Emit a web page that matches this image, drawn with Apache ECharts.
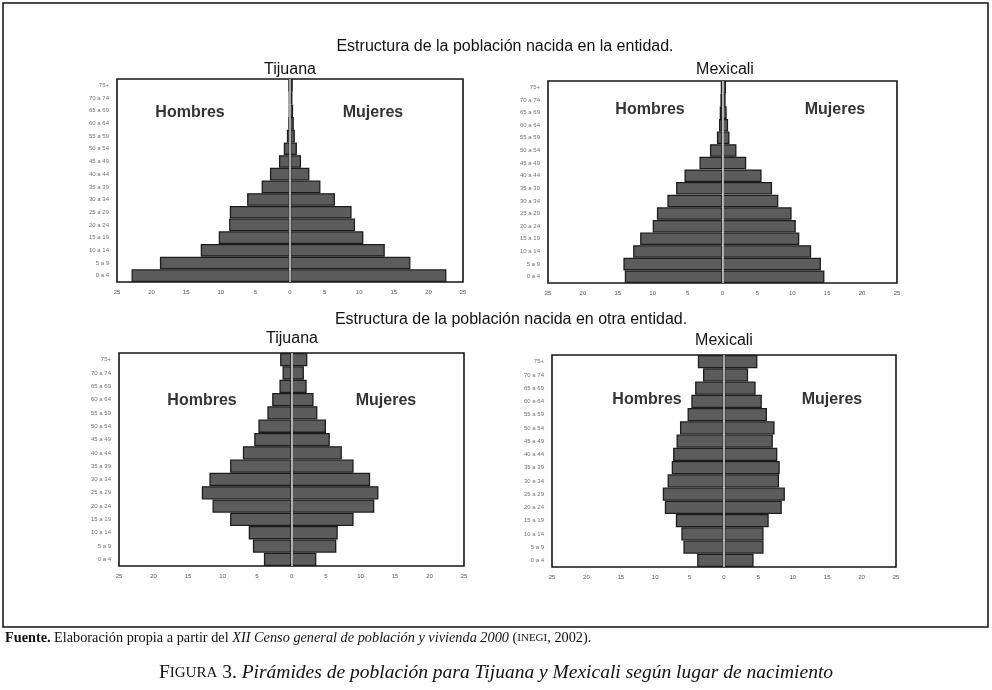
<!DOCTYPE html>
<html><head><meta charset="utf-8">
<script src="https://cdn.jsdelivr.net/npm/echarts@6/dist/echarts.min.js"></script>
<style>html,body{margin:0;padding:0;background:#fff}#c{width:992px;height:690px}</style>
</head><body><div id="c"></div>
<script>
var ageGroups = ['0 a 4','5 a 9','10 a 14','15 a 19','20 a 24','25 a 29','30 a 34','35 a 39','40 a 44','45 a 49','50 a 54','55 a 59','60 a 64','65 a 69','70 a 74','75+'];
var xTicks = [-25,-20,-15,-10,-5,0,5,10,15,20,25];

// Nacida en la entidad
var tijEntMen   = [22.9,18.8,12.9,10.3,8.8,8.7,6.2,4.1,2.9,1.6,0.9,0.45,0.25,0.2,0.2,0.25];
var tijEntWomen = [22.6,17.4,13.7,10.6,9.4,8.9,6.5,4.4,2.8,1.6,1.0,0.7,0.55,0.45,0.35,0.4];
var mxlEntMen   = [14.0,14.2,12.8,11.8,10.0,9.4,7.9,6.65,5.45,3.3,1.8,0.8,0.5,0.4,0.3,0.25];
var mxlEntWomen = [14.6,14.1,12.7,11.0,10.5,9.9,8.0,7.1,5.6,3.4,2.0,1.0,0.8,0.6,0.45,0.5];
// Nacida en otra entidad
var tijOtraMen   = [4.0,5.6,6.2,8.9,11.45,13.0,11.9,8.9,7.05,5.4,4.8,3.5,2.8,1.75,1.3,1.65];
var tijOtraWomen = [3.6,6.5,6.7,9.0,12.0,12.6,11.4,9.0,7.3,5.55,5.0,3.75,3.2,2.2,1.8,2.3];
var mxlOtraMen   = [3.9,5.9,6.2,7.0,8.6,8.9,8.2,7.6,7.4,6.9,6.4,5.3,4.75,4.2,3.05,3.8];
var mxlOtraWomen = [4.3,5.75,5.75,6.5,8.4,8.85,8.0,8.1,7.75,7.1,7.35,6.25,5.5,4.6,3.5,4.85];

var panels = [
  {men: tijEntMen, women: tijEntWomen, grid:{left:117, top:79, width:346, height:203}},
  {men: mxlEntMen, women: mxlEntWomen, grid:{left:548, top:81, width:349, height:202}},
  {men: tijOtraMen, women: tijOtraWomen, grid:{left:119, top:353, width:345, height:213}},
  {men: mxlOtraMen, women: mxlOtraWomen, grid:{left:552, top:355, width:344, height:212}}
];

var grids = [], xAxes = [], yAxes = [], series = [];
panels.forEach(function(p, i){
  grids.push(Object.assign({show:true, borderColor:'#141414', borderWidth:1.6, backgroundColor:'#fff'}, p.grid));
  xAxes.push({type:'value', gridIndex:i, min:xTicks[0], max:xTicks[xTicks.length-1], interval:5,
    axisLine:{show:false}, axisTick:{show:false}, splitLine:{show:false},
    axisLabel:{fontSize:6, color:'#555', margin:7, fontFamily:'Liberation Sans', formatter:function(v){return Math.abs(v);}}});
  yAxes.push({type:'category', gridIndex:i, data:ageGroups,
    axisLine:{show:false}, axisTick:{show:false}, splitLine:{show:false},
    axisLabel:{fontSize:6, color:'#707070', margin:8, fontFamily:'Liberation Sans'}});
  var style = {color:'#5c5c5c', borderColor:'#1c1c1c', borderWidth:1.3};
  series.push({type:'bar', xAxisIndex:i, yAxisIndex:i, stack:'s'+i, barCategoryGap:'0%', itemStyle:style,
    data:p.men.map(function(v){return -v;}), silent:true});
  series.push({type:'bar', xAxisIndex:i, yAxisIndex:i, stack:'s'+i, barCategoryGap:'0%', itemStyle:style,
    data:p.women.slice(), silent:true,
    markLine:{silent:true, symbol:'none', label:{show:false}, lineStyle:{color:'#d8d8d8', width:1.5, type:'solid'}, data:[{xAxis:0}], z:10}});
});

function txt(x, y, s, size, opts){
  return Object.assign({type:'text', x:x, y:y, z:100, style:Object.assign({text:s, fontSize:size, fontFamily:'Liberation Sans', fill:'#111', align:'center', verticalAlign:'middle'}, opts||{})});
}
var bold = {fontWeight:'bold', fill:'#333'};
var graphics = [
  {type:'rect', z:50, shape:{x:3, y:3, width:985, height:624}, style:{fill:'none', stroke:'#111', lineWidth:1.5}},
  txt(505, 47, 'Estructura de la población nacida en la entidad.', 16),
  txt(290, 70, 'Tijuana', 16),
  txt(725, 70, 'Mexicali', 16),
  txt(511, 320, 'Estructura de la población nacida en otra entidad.', 16),
  txt(292, 339, 'Tijuana', 16),
  txt(724, 341, 'Mexicali', 16),
  txt(190, 113, 'Hombres', 16, bold),
  txt(373, 113, 'Mujeres', 16, bold),
  txt(650, 110, 'Hombres', 16, bold),
  txt(835, 110, 'Mujeres', 16, bold),
  txt(202, 401, 'Hombres', 16, bold),
  txt(386, 401, 'Mujeres', 16, bold),
  txt(647, 400, 'Hombres', 16, bold),
  txt(832, 400, 'Mujeres', 16, bold),
  {type:'text', x:5, y:638, z:100, style:{
    text:'{b|Fuente.} {n|Elaboración propia a partir del }{i|XII Censo general de población y vivienda 2000}{n| (}{s|INEGI}{n|, 2002).}',
    verticalAlign:'middle', align:'left',
    rich:{
      b:{fontFamily:'Liberation Serif', fontSize:14.3, fontWeight:'bold', fill:'#111'},
      n:{fontFamily:'Liberation Serif', fontSize:14.3, fill:'#111'},
      i:{fontFamily:'Liberation Serif', fontSize:14.3, fontStyle:'italic', fill:'#111'},
      s:{fontFamily:'Liberation Serif', fontSize:11, fill:'#111'}
    }}},
  {type:'text', x:496, y:673, z:100, style:{
    text:'{f|F}{s|IGURA}{f| 3. }{i|Pirámides de población para Tijuana y Mexicali según lugar de nacimiento}',
    verticalAlign:'middle', align:'center',
    rich:{
      f:{fontFamily:'Liberation Serif', fontSize:19.5, fill:'#111'},
      s:{fontFamily:'Liberation Serif', fontSize:15, fill:'#111'},
      i:{fontFamily:'Liberation Serif', fontSize:19.5, fontStyle:'italic', fill:'#111'}
    }}}
];

var chart = echarts.init(document.getElementById('c'));
chart.setOption({animation:false, backgroundColor:'#fff', grid:grids, xAxis:xAxes, yAxis:yAxes, series:series, graphic:graphics});
</script></body></html>
